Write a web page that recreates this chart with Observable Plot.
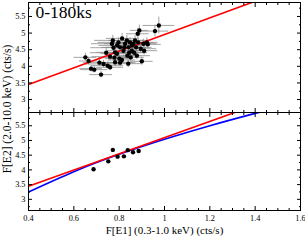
<!DOCTYPE html>
<html><head><meta charset="utf-8">
<script src="https://cdn.jsdelivr.net/npm/d3@7"></script>
<script src="https://cdn.jsdelivr.net/npm/@observablehq/plot@0.6"></script>
<style>
body{margin:0;background:#fff;}
#wrap{position:relative;width:305px;height:241px;font-family:"Liberation Serif",serif;overflow:hidden;}
#plots svg{display:block;}
#ylab{position:absolute;left:7px;top:109px;transform:translate(-50%,-50%) rotate(-90deg);white-space:nowrap;font-size:11.5px;color:#000;}
</style></head><body>
<div id="wrap"><div id="plots"></div><div id="ylab"></div></div>
<script>
// ---- data ----
const panelLabel = "0-180ks";
const xLabel = "F[E1] (0.3-1.0 keV) (cts/s)";
const yLabel = "F[E2] (2.0-10.0 keV) (cts/s)";

const topX = [0.651,0.665,0.676,0.690,0.713,0.720,0.731,0.749,0.760,0.782,
  0.779,0.768,0.772,0.775,0.782,0.790,0.797,0.801,0.804,0.812,
  0.819,0.826,0.834,0.836,0.841,0.848,0.851,0.856,0.863,0.870,
  0.875,0.878,0.882,0.889,0.895,0.900,0.907,0.922,0.926,0.958,
  0.975,
  0.791,0.813,0.822,0.844,0.857,0.866,0.884,0.760,0.743,0.910,0.804,0.840];
const topY = [4.27,4.16,3.93,3.90,4.11,3.75,4.07,4.02,3.97,4.12,
  4.26,4.68,4.78,4.56,4.42,4.38,4.72,4.23,4.57,4.19,
  4.47,4.68,4.78,4.32,4.57,4.72,4.27,4.47,4.68,4.78,
  4.57,4.32,4.98,5.08,4.53,4.15,4.68,4.72,4.66,5.06,
  5.23,
  4.63,4.84,4.57,4.41,4.63,4.41,4.72,4.29,4.41,4.47,4.11,4.08];
const topXErr = [0.05,0.04,0.05,0.06,0.07,0.05,0.08,0.07,0.06,0.08,
  0.07,0.09,0.08,0.10,0.08,0.07,0.09,0.06,0.08,0.06,
  0.07,0.09,0.08,0.06,0.08,0.07,0.06,0.07,0.08,0.06,
  0.07,0.06,0.05,0.04,0.07,0.05,0.06,0.05,0.06,0.06,
  0.07,
  0.08,0.07,0.08,0.07,0.08,0.06,0.07,0.08,0.07,0.06,0.07,0.06];
const topYErr = [0.12,0.11,0.10,0.10,0.12,0.10,0.11,0.11,0.10,0.12,
  0.12,0.14,0.15,0.13,0.13,0.12,0.14,0.12,0.13,0.12,
  0.13,0.14,0.15,0.12,0.13,0.14,0.12,0.13,0.14,0.15,
  0.13,0.12,0.16,0.16,0.13,0.12,0.14,0.14,0.14,0.18,
  0.25,
  0.13,0.15,0.13,0.13,0.14,0.13,0.14,0.12,0.12,0.13,0.12,0.12];

const botX = [0.687,0.752,0.772,0.793,0.821,0.838,0.861,0.886];
const botY = [4.02,4.29,4.68,4.45,4.46,4.67,4.60,4.64];

const redTopX = [0.4, 1.6];
const redTopY = [3.45, 6.46];
const redBotX = [0.4, 1.6];
const redBotY = [3.44, 6.75];
const blueX = [0.4, 0.6, 0.8, 1.0, 1.2, 1.4, 1.6];
const blueY = [3.25, 3.94, 4.53, 5.04, 5.50, 5.92, 6.32];

const xMajor = [0.4,0.6,0.8,1.0,1.2,1.4,1.6];
const xMinor = [0.45,0.5,0.55,0.65,0.7,0.75,0.85,0.9,0.95,1.05,1.1,1.15,1.25,1.3,1.35,1.45,1.5,1.55];
const yMajor = [3,3.5,4,4.5,5,5.5];
const yMinor = [2.75,3.25,3.75,4.25,4.75,5.25,5.75];

// ---- build ----
const topPts = topX.map((x,i)=>({x, y:topY[i], xe:topXErr[i], ye:topYErr[i]}));
const botPts = botX.map((x,i)=>({x, y:botY[i]}));
const lineOf = (xs, ys) => xs.map((x,i)=>({x, y:ys[i]}));
const fmt = d => String(+(+d).toFixed(2));

function tickMarks(showX) {
  const m = [];
  for (const a of ["bottom","top"]) {
    m.push(Plot.axisX(xMajor, {anchor:a, tickSize:-4, text:null, label:null}));
    m.push(Plot.axisX(xMinor, {anchor:a, tickSize:-2, text:null, label:null}));
  }
  for (const a of ["left","right"]) {
    m.push(Plot.axisY(yMajor, {anchor:a, tickSize:-4, text:null, label:null}));
    m.push(Plot.axisY(yMinor, {anchor:a, tickSize:-2, text:null, label:null}));
  }
  m.push(Plot.axisY(yMajor, {anchor:"left", tickSize:0, tickPadding:3, label:null, tickFormat:fmt, fontSize:8.3}));
  if (showX) m.push(Plot.axisX(xMajor, {anchor:"bottom", tickSize:0, tickPadding:5, label:null, tickFormat:fmt, fontSize:8.3}));
  return m;
}

const common = {
  width: 305, marginLeft: 28, marginRight: 5,
  style: {fontFamily:"'Liberation Serif', serif", background:"white", color:"black", overflow:"visible"},
  x: {domain:[0.4,1.6]}
};

const topPanel = Plot.plot({
  ...common, height: 112, marginTop: 2, marginBottom: 0,
  y: {domain:[2.61, 5.92]},
  marks: [
    Plot.ruleY(topPts, {y:"y", x1:d=>d.x-d.xe, x2:d=>d.x+d.xe, stroke:"#8c8c8c", strokeWidth:0.8}),
    Plot.ruleX(topPts, {x:"x", y1:d=>d.y-d.ye, y2:d=>d.y+d.ye, stroke:"#8c8c8c", strokeWidth:0.8}),
    Plot.line(lineOf(redTopX, redTopY), {x:"x", y:"y", stroke:"#ff0000", strokeWidth:1.6, clip:true}),
    Plot.dot(topPts, {x:"x", y:"y", r:2.2, fill:"black", stroke:null}),
    Plot.text([panelLabel], {frameAnchor:"top-left", dx:7, dy:3, lineAnchor:"top", textAnchor:"start", fontSize:17.5}),
    ...tickMarks(false),
    Plot.frame({stroke:"black", strokeWidth:1})
  ]
});

const botPanel = Plot.plot({
  ...common, height: 129, marginTop: 0, marginBottom: 31,
  y: {domain:[2.62, 5.95]},
  marks: [
    Plot.line(lineOf(blueX, blueY), {x:"x", y:"y", stroke:"#0000ff", strokeWidth:1.6, curve:"natural", clip:true}),
    Plot.line(lineOf(redBotX, redBotY), {x:"x", y:"y", stroke:"#ff0000", strokeWidth:1.6, clip:true}),
    Plot.dot(botPts, {x:"x", y:"y", r:2.2, fill:"black", stroke:null}),
    Plot.text([xLabel], {frameAnchor:"bottom", dy:16, lineAnchor:"top", fontSize:11}),
    ...tickMarks(true),
    Plot.frame({stroke:"black", strokeWidth:1})
  ]
});

document.getElementById("plots").append(topPanel, botPanel);
document.getElementById("ylab").textContent = yLabel;
</script>
</body></html>
